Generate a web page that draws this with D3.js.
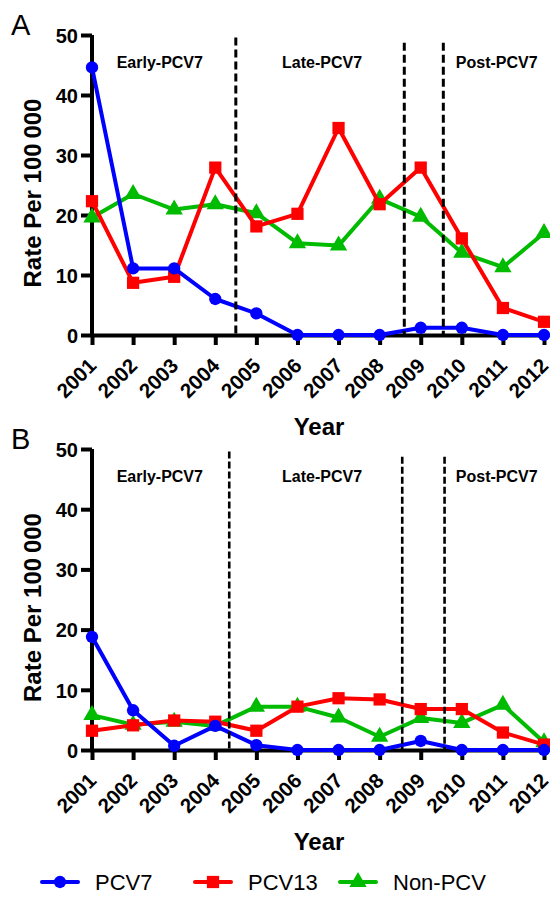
<!DOCTYPE html>
<html>
<head>
<meta charset="utf-8">
<script src="https://cdn.jsdelivr.net/npm/d3@7"></script>
<style>
  body { margin: 0; background: #fff; }
  svg { display: block; font-family: "Liberation Sans", Arial, sans-serif; }
</style>
</head>
<body>
<div id="chart"></div>
<script>
// Data
const years = [2001, 2002, 2003, 2004, 2005, 2006, 2007, 2008, 2009, 2010, 2011, 2012];
const yTicks = [0, 10, 20, 30, 40, 50];
const seriesNames = ["PCV7", "PCV13", "Non-PCV"];

const pcv7A   = [44.6, 11.1, 11.1, 6.0, 3.6, 0, 0, 0, 1.2, 1.2, 0, 0];
const pcv13A  = [22.3, 8.7, 9.7, 27.9, 18.1, 20.2, 34.5, 21.8, 27.9, 16.1, 4.5, 2.2];
const nonPcvA = [19.6, 23.5, 20.9, 21.8, 20.3, 15.3, 14.9, 22.7, 19.7, 13.7, 11.3, 17.0];

const pcv7B   = [18.8, 6.6, 0.7, 4.0, 0.8, 0, 0, 0, 1.5, 0, 0, 0];
const pcv13B  = [3.2, 4.1, 4.9, 4.7, 3.2, 7.2, 8.6, 8.4, 6.8, 6.8, 2.9, 0.9];
const nonPcvB = [5.8, 4.2, 4.7, 4.0, 7.2, 7.2, 5.4, 2.2, 5.3, 4.5, 7.5, 1.3];

const periodLabels = ["Early-PCV7", "Late-PCV7", "Post-PCV7"];
const periodLabelYears = [2002.65, 2006.6, 2010.85];
const periodBoundsA = [2004.5, 2008.6, 2009.55];
const periodBoundsB = [2004.34, 2008.55, 2009.58];

const colors = ["#0000ff", "#ff0000", "#00bb00"];
const shapes = [d3.symbolCircle, d3.symbolSquare, d3.symbolTriangle];
const symSizes = [120, 150, 130];

const W = 550, H = 901;
const svg = d3.select("#chart").append("svg").attr("width", W).attr("height", H);

const x = d3.scaleLinear().domain([2001, 2012]).range([92, 544]);

function drawPanel(letter, top, bottom, series, bounds, dash) {
    const y = d3.scaleLinear().domain([0, 50]).range([bottom, top]);
    const g = svg.append("g");

    // panel letter
    g.append("text")
        .attr("x", 11).attr("y", top)
        .style("font-size", "29px")
        .text(letter);

    // axes
    const yAxis = g.append("g")
        .attr("transform", `translate(${x(2001)},0)`)
        .call(d3.axisLeft(y).tickValues(yTicks).tickSize(11).tickSizeOuter(0).tickPadding(3));
    const xAxis = g.append("g")
        .attr("transform", `translate(0,${bottom})`)
        .call(d3.axisBottom(x).tickValues(years).tickFormat(d3.format("d")).tickSize(10).tickSizeOuter(0));

    [yAxis, xAxis].forEach(a => {
        a.select(".domain").attr("stroke", "#000").attr("stroke-width", 4);
        a.selectAll(".tick line").attr("stroke", "#000").attr("stroke-width", 4);
        a.selectAll("text")
            .attr("fill", "#000")
            .attr("font-size", null)
            .style("font-size", "20px")
            .style("font-weight", "bold")
            .style("font-family", "'Liberation Sans', Arial, sans-serif");
    });
    yAxis.select(".domain").attr("d", `M0,${bottom}V${top}`);
    yAxis.selectAll("text").attr("dy", "0.36em");

    xAxis.selectAll("text")
        .attr("text-anchor", "end")
        .attr("y", 0)
        .attr("dy", 0)
        .style("font-size", "20.5px")
        .attr("transform", "translate(5,32) rotate(-45)");

    // axis titles
    g.append("text")
        .attr("x", 319).attr("y", bottom + 100)
        .attr("text-anchor", "middle")
        .style("font-size", "24px").style("font-weight", "bold")
        .text("Year");
    g.append("text")
        .attr("transform", `translate(41,${(top + bottom) / 2 + 8}) rotate(-90)`)
        .attr("text-anchor", "middle")
        .style("font-size", "24px").style("font-weight", "bold")
        .text("Rate Per 100\u2009000");

    // period labels
    g.selectAll(".plabel").data(periodLabels).enter().append("text")
        .attr("x", (d, i) => x(periodLabelYears[i]))
        .attr("y", top + 33)
        .attr("text-anchor", "middle")
        .style("font-size", "16px").style("font-weight", "bold")
        .text(d => d);

    // series lines, drawn bottom-up (Non-PCV first, PCV7 on top)
    const line = d3.line().x((d, i) => x(years[i])).y(d => y(d));
    [2, 1, 0].forEach(k => {
        g.append("path")
            .datum(series[k])
            .attr("fill", "none")
            .attr("stroke", colors[k])
            .attr("stroke-width", 4)
            .attr("stroke-linejoin", "round")
            .attr("d", line);
        g.selectAll(".m" + k).data(series[k]).enter().append("path")
            .attr("transform", (d, i) => `translate(${x(years[i])},${y(d)})`)
            .attr("d", d3.symbol().type(shapes[k]).size(symSizes[k]))
            .attr("fill", colors[k]);
    });

    // period boundaries
    g.selectAll(".bound").data(bounds).enter().append("line")
        .attr("x1", d => x(d)).attr("x2", d => x(d))
        .attr("y1", (d, i) => y(i === 0 ? 49.6 : 48.7))
        .attr("y2", bottom)
        .attr("stroke", "#000")
        .attr("stroke-width", dash.w)
        .attr("stroke-dasharray", dash.a);
}

drawPanel("A", 35, 335, [pcv7A, pcv13A, nonPcvA], periodBoundsA, { w: 3, a: "8,4" });
drawPanel("B", 449, 750, [pcv7B, pcv13B, nonPcvB], periodBoundsB, { w: 2.6, a: "7,3" });

// legend
const legendX = [42, 195, 340];
const leg = svg.append("g");
seriesNames.forEach((name, k) => {
    const lx = legendX[k];
    leg.append("line")
        .attr("x1", lx).attr("x2", lx + 36)
        .attr("y1", 882).attr("y2", 882)
        .attr("stroke", colors[k]).attr("stroke-width", 4).attr("stroke-linecap", "round");
    leg.append("path")
        .attr("transform", `translate(${lx + 18},882)`)
        .attr("d", d3.symbol().type(shapes[k]).size(symSizes[k]))
        .attr("fill", colors[k]);
    leg.append("text")
        .attr("x", lx + 53).attr("y", 890)
        .style("font-size", "22px")
        .text(name);
});
</script>
</body>
</html>
